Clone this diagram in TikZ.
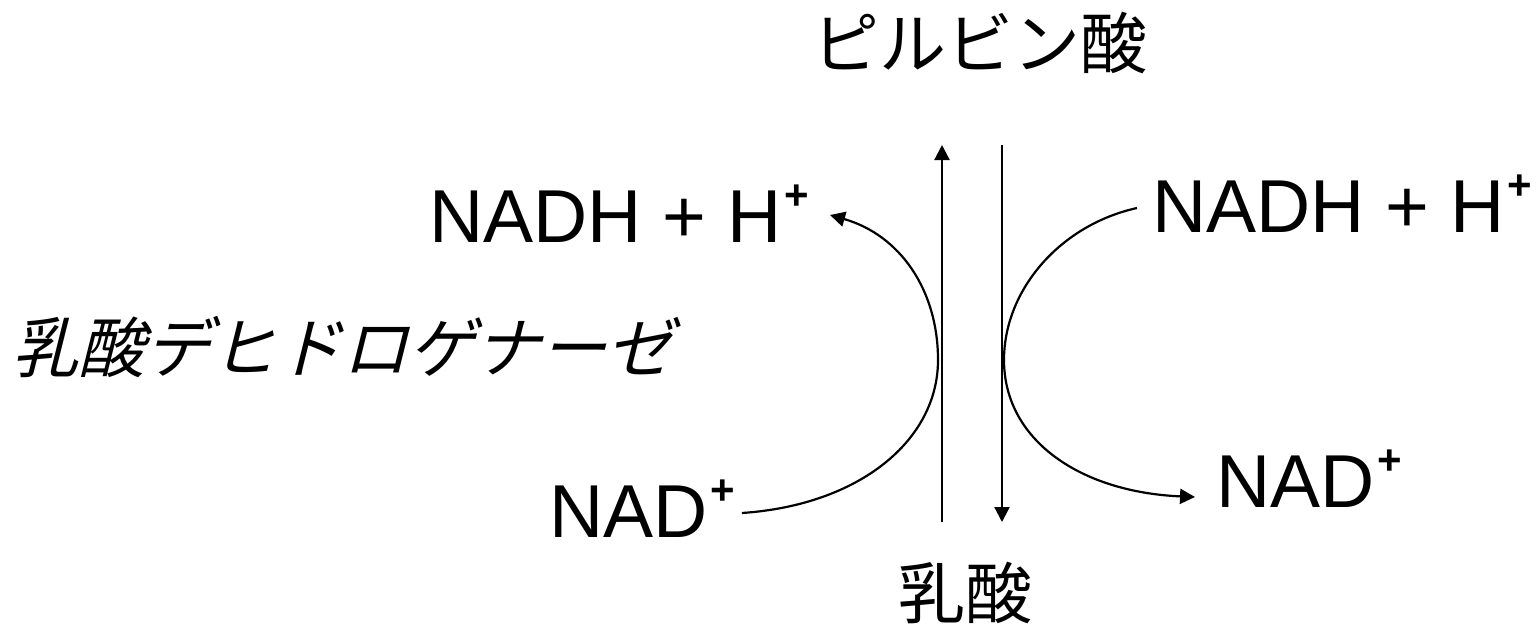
\documentclass[tikz,border=0pt]{standalone}
\usepackage{fontspec}
\setmainfont{Liberation Sans}
\newfontfamily\jpfont{Noto Sans CJK JP}
\newfontfamily\jpitfont[FakeSlant=0.25]{Noto Sans CJK JP}
\usetikzlibrary{arrows.meta}
\newcommand{\plusup}{\kern3pt\raisebox{33pt}{\fontsize{42}{42}\selectfont\bfseries +}}
\begin{document}
\begin{tikzpicture}[x=1pt,y=-1pt,
  lat/.style={inner sep=0pt,font=\fontsize{75}{80}\selectfont},
  jap/.style={inner sep=0pt,font=\fontsize{67}{72}\selectfont\jpfont},
  conn/.style={line width=2.2pt,-{Triangle[length=15pt,width=15pt]}}]
\useasboundingbox (0,0) rectangle (1539,630);
\node[jap,anchor=base] (pyr) at (980,68) {ピルビン酸};
\node[jap,anchor=base] (lac) at (965,618) {乳酸};
\node[inner sep=0pt,anchor=base west,font=\fontsize{66}{70}\selectfont\jpitfont] (ldh) at (12,372) {乳酸デヒドロゲナーゼ};
\node[lat,anchor=base west] (nadhL) at (429,242) {NADH + H\plusup};
\node[lat,anchor=base west] (nadhR) at (1152,232) {NADH + H\plusup};
\node[lat,anchor=base west] (nadL) at (549,537) {NAD\plusup};
\node[lat,anchor=base west] (nadR) at (1216,507) {NAD\plusup};
\coordinate (upS) at (942,522);
\coordinate (upE) at (942,145);
\coordinate (dnS) at (1002,145);
\coordinate (dnE) at (1002,522);
\coordinate (lS) at (742,513);
\coordinate (lM) at (938,360);
\coordinate (lE) at (830,215);
\coordinate (rS) at (1137,208);
\coordinate (rM) at (1004,360);
\coordinate (rE) at (1195,497);
\draw[conn] (upS) -- (upE);
\draw[conn] (dnS) -- (dnE);
\draw[conn] (lS) .. controls (860,505) and (938,440) .. (lM) .. controls (938,290) and (900,235) .. (lE);
\draw[conn] (rS) .. controls (1060,225) and (1004,290) .. (rM) .. controls (1004,440) and (1080,492) .. (rE);
\end{tikzpicture}
\end{document}
